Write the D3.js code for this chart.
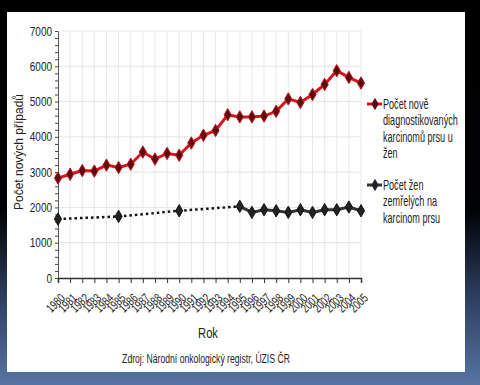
<!DOCTYPE html>
<html>
<head>
<meta charset="utf-8">
<script src="https://cdn.jsdelivr.net/npm/d3@7"></script>
<style>
  body { margin: 0; background: #000; }
  svg text { font-family: "Liberation Sans", Arial, sans-serif; fill: #222; }
</style>
</head>
<body>
<div id="chart"></div>
<script>
// years on the x axis
const years = d3.range(1980, 2006);

// newly diagnosed breast cancer cases in women
const incidence = [2830, 2940, 3045, 3030, 3200, 3130, 3225, 3570, 3370, 3530,
  3480, 3825, 4045, 4180, 4625, 4565, 4565, 4590, 4725, 5075,
  4975, 5200, 5485, 5875, 5685, 5525];

// deaths, only reported every 5 years until 1995 (dotted part)
const deathYearsEarly = [1980, 1985, 1990, 1995];
const deathsEarly = [1670, 1745, 1905, 2030];
const deathYearsLate = [1995, 1996, 1997, 1998, 1999, 2000, 2001, 2002, 2003, 2004, 2005];
const deathsLate = [2030, 1860, 1935, 1905, 1860, 1935, 1860, 1935, 1935, 2010, 1905];

const yTicks = [0, 1000, 2000, 3000, 4000, 5000, 6000, 7000];
const legendLabels = [
  ["Počet nově", "diagnostikovaných", "karcinomů prsu u", "žen"],
  ["Počet žen", "zemřelých na", "karcinom prsu"]
];

const width = 480, height = 385;
const margin = { top: 31, right: 119, bottom: 107, left: 58 };

const svg = d3.select("#chart").append("svg")
  .attr("width", width)
  .attr("height", height);

// dark slide background
const grad = svg.append("defs").append("linearGradient")
  .attr("id", "bg").attr("x1", 0).attr("y1", 0).attr("x2", 0).attr("y2", 1);
grad.append("stop").attr("offset", "0%").attr("stop-color", "#000");
grad.append("stop").attr("offset", "55%").attr("stop-color", "#020306");
grad.append("stop").attr("offset", "76%").attr("stop-color", "#2b3c5c");
grad.append("stop").attr("offset", "100%").attr("stop-color", "#5874a4");
svg.append("rect").attr("width", width).attr("height", height).attr("fill", "url(#bg)");

svg.append("rect")
  .attr("x", 7).attr("y", 12).attr("width", 458).attr("height", 360)
  .attr("fill", "#fff");

const x = d3.scaleLinear()
  .domain([1980, 2005])
  .range([margin.left, width - margin.right]);

const y = d3.scaleLinear()
  .domain([0, 7000])
  .range([height - margin.bottom, margin.top]);

// grid
svg.append("g")
  .selectAll("line.h")
  .data(yTicks.slice(1))
  .join("line")
    .attr("x1", x(1980)).attr("x2", x(2005))
    .attr("y1", d => y(d)).attr("y2", d => y(d))
    .attr("stroke", "#e4e4e4");

svg.append("g")
  .selectAll("line.v")
  .data(years.slice(1))
  .join("line")
    .attr("x1", d => x(d)).attr("x2", d => x(d))
    .attr("y1", y(0)).attr("y2", y(7000))
    .attr("stroke", "#e8e8e8");

// y axis
const yAxis = svg.append("g")
  .attr("transform", `translate(${margin.left},0)`)
  .call(d3.axisLeft(y).tickValues(yTicks).tickSize(0).tickFormat(d3.format("d")));
yAxis.select(".domain").attr("stroke", "#555");
yAxis.selectAll("text")
  .attr("x", -6 / 0.8)
  .attr("transform", "scale(0.8,1)")
  .style("font-size", "12.5px")
  .attr("fill", "#333");

svg.append("g")
  .attr("transform", `translate(${margin.left},0)`)
  .call(d3.axisLeft(y).ticks(35).tickSize(3).tickFormat(""))
  .call(g => g.select(".domain").remove())
  .selectAll("line").attr("stroke", "#444");

// x axis
const xAxis = svg.append("g")
  .attr("transform", `translate(0,${y(0)})`)
  .call(d3.axisBottom(x).tickValues(years).tickSize(5).tickFormat(d3.format("d")));
xAxis.select(".domain").attr("stroke", "#333").attr("stroke-width", 1.5);
xAxis.selectAll("line").attr("stroke", "#333");
xAxis.selectAll("text")
  .attr("text-anchor", "middle")
  .attr("y", 0)
  .attr("dy", "0.35em")
  .attr("transform", "translate(-3,25) rotate(-45) scale(0.74,1)")
  .style("font-size", "12.5px")
  .attr("fill", "#333");

// axis titles
svg.append("text")
  .attr("transform", "translate(208,338) scale(0.8,1)")
  .attr("text-anchor", "middle")
  .style("font-size", "14px")
  .attr("fill", "#333")
  .text("Rok");

svg.append("text")
  .attr("transform", "translate(23,152) rotate(-90)")
  .attr("text-anchor", "middle")
  .style("font-size", "12px")
  .attr("fill", "#333")
  .text("Počet nových případů");

svg.append("text")
  .attr("transform", "translate(206,363) scale(0.72,1)")
  .attr("text-anchor", "middle")
  .style("font-size", "12px")
  .attr("fill", "#333")
  .text("Zdroj: Národní onkologický registr, ÚZIS ČR");

const line = d3.line().x(d => x(d[0])).y(d => y(d[1]));
const diamond = d3.symbol().type(d3.symbolDiamond).size(44);

// incidence series
const incPts = d3.zip(years, incidence);
svg.append("path")
  .datum(incPts)
  .attr("d", line)
  .attr("fill", "none")
  .attr("stroke", "#d9121c")
  .attr("stroke-width", 3);
svg.append("g").selectAll("path")
  .data(incPts)
  .join("path")
    .attr("d", diamond)
    .attr("transform", d => `translate(${x(d[0])},${y(d[1])})`)
    .attr("fill", "#5a0c10")
    .attr("stroke", "#c01018")
    .attr("stroke-width", 1);

// mortality series
const earlyPts = d3.zip(deathYearsEarly, deathsEarly);
const latePts = d3.zip(deathYearsLate, deathsLate);
svg.append("path")
  .datum(earlyPts)
  .attr("d", line)
  .attr("fill", "none")
  .attr("stroke", "#111")
  .attr("stroke-width", 2.5)
  .attr("stroke-dasharray", "2.5,3");
svg.append("path")
  .datum(latePts)
  .attr("d", line)
  .attr("fill", "none")
  .attr("stroke", "#333")
  .attr("stroke-width", 3);
svg.append("g").selectAll("path")
  .data(earlyPts.concat(latePts.slice(1)))
  .join("path")
    .attr("d", diamond)
    .attr("transform", d => `translate(${x(d[0])},${y(d[1])})`)
    .attr("fill", "#222")
    .attr("stroke", "#111");

// legend
const legendColors = [["#d9121c", "#5a0c10"], ["#333", "#222"]];
const legendY = [104, 185];
legendLabels.forEach((lines, i) => {
  const g = svg.append("g").attr("transform", `translate(367,${legendY[i]})`);
  g.append("line").attr("x1", 0).attr("x2", 15)
    .attr("stroke", legendColors[i][0]).attr("stroke-width", 3);
  g.append("path").attr("d", diamond).attr("transform", "translate(8,0)")
    .attr("fill", legendColors[i][1]);
  g.append("text")
    .attr("transform", "translate(16,5) scale(0.65,1)")
    .style("font-size", "14px")
    .attr("fill", "#333")
    .selectAll("tspan")
    .data(lines)
    .join("tspan")
      .attr("x", 0)
      .attr("dy", (d, k) => k === 0 ? 0 : 16.3)
      .text(d => d);
});
</script>
</body>
</html>
